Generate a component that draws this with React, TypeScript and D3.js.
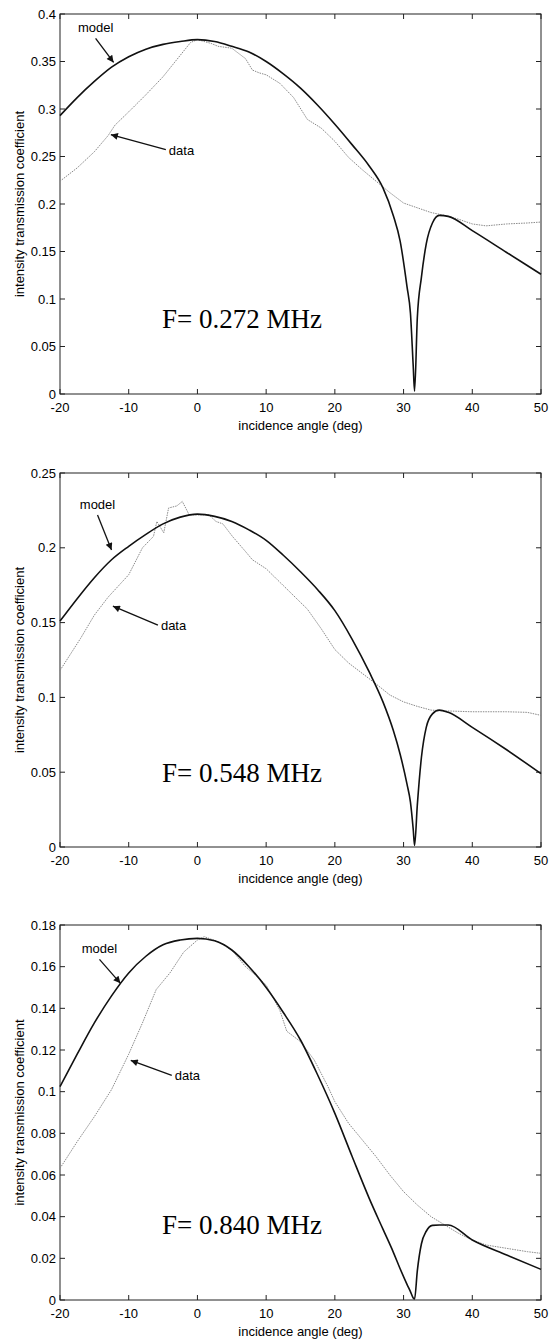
import React from 'react';
import * as d3 from 'd3';

// incidence angle ticks, shared by all three panels
const angleTicks = [-20, -10, 0, 10, 20, 30, 40, 50];

// model curves, sampled at the same angles in every panel
const modelAngles = [-20, -17.5, -15, -12.5, -10, -7.5, -5, -2.5, 0, 2.5, 5, 7.5, 10, 12.5, 15, 17.5, 20, 22.5, 25, 27, 28.5, 29.5, 30.5, 31, 31.4, 31.6, 32, 32.6, 33.3, 34.2, 35.2, 36.5, 40, 45, 50];
const model272 = [0.293, 0.312, 0.329, 0.344, 0.355, 0.363, 0.368, 0.371, 0.373, 0.371, 0.366, 0.36, 0.35, 0.337, 0.322, 0.304, 0.284, 0.2625, 0.24, 0.217, 0.188, 0.161, 0.113, 0.085, 0.03, 0.003, 0.08, 0.123, 0.158, 0.18, 0.188, 0.187, 0.172, 0.149, 0.126];
const model548 = [0.151, 0.166, 0.18, 0.192, 0.201, 0.209, 0.216, 0.2205, 0.2225, 0.221, 0.2176, 0.212, 0.205, 0.195, 0.184, 0.172, 0.158, 0.139, 0.117, 0.097, 0.078, 0.062, 0.042, 0.03, 0.012, 0.001, 0.028, 0.06, 0.08, 0.089, 0.0915, 0.09, 0.08, 0.065, 0.049];
const model840 = [0.1024, 0.118, 0.133, 0.146, 0.157, 0.165, 0.1705, 0.1728, 0.1736, 0.1724, 0.168, 0.16, 0.15, 0.138, 0.1248, 0.108, 0.0896, 0.069, 0.0488, 0.034, 0.023, 0.015, 0.0075, 0.004, 0.001, 0.0005, 0.014, 0.027, 0.033, 0.0358, 0.036, 0.036, 0.0288, 0.0216, 0.0147];

// measured data
const data272Angles = [-20, -17.5, -15, -13, -12, -10, -7.5, -5, -3, -1, 0, 2, 3, 5, 7, 8, 9, 10, 12, 14, 16, 18, 20, 22, 24, 26, 28, 30, 32, 34, 36, 38, 40, 42, 45, 48, 50];
const data272 = [0.224, 0.238, 0.255, 0.272, 0.283, 0.297, 0.315, 0.334, 0.352, 0.37, 0.373, 0.369, 0.366, 0.364, 0.353, 0.341, 0.338, 0.336, 0.327, 0.312, 0.289, 0.28, 0.266, 0.249, 0.236, 0.224, 0.212, 0.201, 0.196, 0.191, 0.188, 0.184, 0.179, 0.177, 0.179, 0.18, 0.181];

const data548Angles = [-20, -17, -15, -13, -11, -10, -8, -6.4, -5.9, -4.9, -4.2, -3, -2.2, -1.2, 0, 1.7, 2.7, 3.7, 5.1, 7, 8, 10, 12, 14, 16, 18, 20, 22, 24, 26, 28, 30, 32, 34, 36, 40, 45, 48, 50];
const data548 = [0.118, 0.1395, 0.155, 0.167, 0.177, 0.182, 0.2, 0.2076, 0.2176, 0.21, 0.2266, 0.228, 0.231, 0.222, 0.222, 0.222, 0.2176, 0.216, 0.2076, 0.1975, 0.192, 0.186, 0.177, 0.168, 0.159, 0.146, 0.132, 0.123, 0.116, 0.109, 0.1016, 0.097, 0.094, 0.0915, 0.091, 0.0904, 0.0904, 0.09, 0.088];

const data840Angles = [-20, -17.5, -15, -12.5, -10, -8, -6, -4, -2, 0, 1, 3, 5, 7, 9, 10, 12, 13, 15, 17, 19, 20, 22, 24, 26, 28, 30, 32, 34, 36, 38, 40, 42, 45, 48, 50];
const data840 = [0.0632, 0.076, 0.088, 0.101, 0.118, 0.133, 0.149, 0.157, 0.167, 0.1728, 0.1744, 0.172, 0.168, 0.16, 0.1544, 0.1512, 0.139, 0.129, 0.124, 0.1152, 0.1024, 0.0952, 0.0848, 0.0768, 0.0688, 0.06, 0.052, 0.0456, 0.04, 0.036, 0.032, 0.0288, 0.0264, 0.0248, 0.0232, 0.0224];

// y tick values and their labels
const yTicks272 = [0, 0.05, 0.1, 0.15, 0.2, 0.25, 0.3, 0.35, 0.4];
const yLabels272 = ['0', '0.05', '0.1', '0.15', '0.2', '0.25', '0.3', '0.35', '0.4'];
const yTicks548 = [0, 0.05, 0.1, 0.15, 0.2, 0.25];
const yLabels548 = ['0', '0.05', '0.1', '0.15', '0.2', '0.25'];
const yTicks840 = [0, 0.02, 0.04, 0.06, 0.08, 0.1, 0.12, 0.14, 0.16, 0.18];
const yLabels840 = ['0', '0.02', '0.04', '0.06', '0.08', '0.1', '0.12', '0.14', '0.16', '0.18'];

const freqLabels = ['F= 0.272 MHz', 'F= 0.548 MHz', 'F= 0.840 MHz'];

const sans = 'Liberation Sans, Arial, sans-serif';

const panels = [
  {
    top: 14, bottom: 394, left: 60, right: 541, yMax: 0.4,
    yTicks: yTicks272, yLabels: yLabels272, model: model272,
    dataAngles: data272Angles, data: data272, label: freqLabels[0],
    modelTip: [-12.2, 0.349], modelOff: [-18, -24],
    dataTip: [-12.6, 0.273], dataOff: [55, 15],
  },
  {
    top: 473, bottom: 847, left: 60, right: 541, yMax: 0.25,
    yTicks: yTicks548, yLabels: yLabels548, model: model548,
    dataAngles: data548Angles, data: data548, label: freqLabels[1],
    modelTip: [-12.5, 0.1985], modelOff: [-14, -35],
    dataTip: [-12.3, 0.161], dataOff: [45, 19],
  },
  {
    top: 925, bottom: 1300, left: 60, right: 541, yMax: 0.18,
    yTicks: yTicks840, yLabels: yLabels840, model: model840,
    dataAngles: data840Angles, data: data840, label: freqLabels[2],
    modelTip: [-11.2, 0.152], modelOff: [-21, -24],
    dataTip: [-9.7, 0.115], dataOff: [41, 15],
  },
];

const Panel = ({ p, idx }: { p: any; idx: number }) => {
  const x = d3.scaleLinear().domain([-20, 50]).range([p.left, p.right]);
  const y = d3.scaleLinear().domain([0, p.yMax]).range([p.bottom, p.top]);
  const smooth = d3.line<[number, number]>().x(d => x(d[0])).y(d => y(d[1])).curve(d3.curveMonotoneX);
  const line = d3.line<[number, number]>().x(d => x(d[0])).y(d => y(d[1]));
  const modelPts = modelAngles.map((a, i) => [a, p.model[i]] as [number, number]);
  const dataPts = p.dataAngles.map((a: number, i: number) => [a, p.data[i]] as [number, number]);
  const tick = 5;

  const mt = [x(p.modelTip[0]), y(p.modelTip[1])];
  const ms = [mt[0] + p.modelOff[0], mt[1] + p.modelOff[1]];
  const dt = [x(p.dataTip[0]), y(p.dataTip[1])];
  const ds = [dt[0] + p.dataOff[0], dt[1] + p.dataOff[1]];

  return (
    <g>
      <rect x={p.left} y={p.top} width={p.right - p.left} height={p.bottom - p.top}
        fill="none" stroke="#222" strokeWidth={1} />
      {angleTicks.map(t => (
        <g key={'x' + t}>
          <line x1={x(t)} x2={x(t)} y1={p.bottom} y2={p.bottom - tick} stroke="#222" />
          <line x1={x(t)} x2={x(t)} y1={p.top} y2={p.top + tick} stroke="#222" />
          <text x={x(t)} y={p.bottom + 18} textAnchor="middle" fontFamily={sans} fontSize={13}>{t}</text>
        </g>
      ))}
      {p.yTicks.map((t: number, i: number) => (
        <g key={'y' + t}>
          <line x1={p.left} x2={p.left + tick} y1={y(t)} y2={y(t)} stroke="#222" />
          <line x1={p.right} x2={p.right - tick} y1={y(t)} y2={y(t)} stroke="#222" />
          <text x={p.left - 4} y={y(t) + 4.5} textAnchor="end" fontFamily={sans} fontSize={13}>{p.yLabels[i]}</text>
        </g>
      ))}
      <text x={(p.left + p.right) / 2} y={p.bottom + 36} textAnchor="middle" fontFamily={sans} fontSize={13}>
        incidence angle (deg)
      </text>
      <text transform={`translate(24,${(p.top + p.bottom) / 2}) rotate(-90)`} textAnchor="middle"
        fontFamily={sans} fontSize={13}>intensity transmission coefficient</text>

      <path d={line(dataPts) || ''} fill="none" stroke="#8a8a8a" strokeWidth={1} strokeDasharray="1.5,1" />
      <path d={smooth(modelPts) || ''} fill="none" stroke="#111" strokeWidth={1.6} />

      <line x1={ms[0]} y1={ms[1]} x2={mt[0]} y2={mt[1]} stroke="#111" strokeWidth={1.3} markerEnd={`url(#arrow${idx})`} />
      <text x={ms[0]} y={ms[1] - 6} textAnchor="middle" fontFamily={sans} fontSize={13}>model</text>
      <line x1={ds[0]} y1={ds[1]} x2={dt[0]} y2={dt[1]} stroke="#111" strokeWidth={1.3} markerEnd={`url(#arrow${idx})`} />
      <text x={ds[0] + 3} y={ds[1] + 5} fontFamily={sans} fontSize={13}>data</text>

      <text x={p.left + 102} y={p.top + (p.bottom - p.top) * 0.825} fontFamily="Liberation Serif, Times New Roman, serif"
        fontSize={27}>{p.label}</text>
    </g>
  );
};

export default function App() {
  return (
    <svg width={550} height={1342} style={{ position: 'absolute', left: 0, top: 0, background: '#fff' }}>
      <defs>
        {panels.map((_, i) => (
          <marker key={i} id={`arrow${i}`} viewBox="0 0 10 10" refX={10} refY={5} markerWidth={10} markerHeight={7}
            markerUnits="userSpaceOnUse" orient="auto">
            <path d="M0,0 L10,5 L0,10 z" fill="#111" />
          </marker>
        ))}
      </defs>
      {panels.map((p, i) => <Panel key={i} p={p} idx={i} />)}
    </svg>
  );
}
